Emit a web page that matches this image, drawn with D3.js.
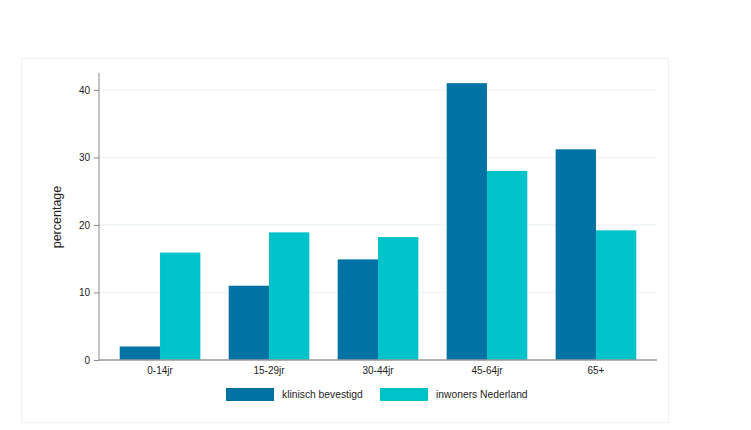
<!DOCTYPE html>
<html>
<head>
<meta charset="utf-8">
<script src="https://cdn.jsdelivr.net/npm/d3@7"></script>
<style>
    body { margin: 0; background: #fff; }
    svg { display: block; font-family: "Liberation Sans", Arial, sans-serif; }
</style>
</head>
<body>
<div id="container"></div>
<script>
const categories = ['0-14jr', '15-29jr', '30-44jr', '45-64jr', '65+'];
const seriesNames = ['klinisch bevestigd', 'inwoners Nederland'];
const klinisch = [2.0, 11.0, 14.9, 41.0, 31.2];
const inwoners = [15.9, 18.9, 18.2, 28.0, 19.2];
const yTicks = [0, 10, 20, 30, 40];
const colors = ['#0073a4', '#00c2c9'];

const width = 751;
const height = 430;
const plotLeft = 99, plotRight = 657, plotBottom = 360, plotTop = 73;

const svg = d3.select('#container').append('svg')
    .attr('width', width)
    .attr('height', height);

// outer panel
svg.append('rect')
    .attr('x', 21.5).attr('y', 58.5)
    .attr('width', 647).attr('height', 364)
    .attr('fill', '#fff')
    .attr('stroke', '#eaf3f5');

const x = d3.scaleBand()
    .domain(categories)
    .range([plotLeft, plotRight])
    .paddingInner(0.26)
    .paddingOuter(0.19);

const xSub = d3.scaleBand()
    .domain(seriesNames)
    .range([0, x.bandwidth()]);

const y = d3.scaleLinear()
    .domain([0, 42.5])
    .range([plotBottom, plotTop]);

// gridlines
svg.append('g')
    .selectAll('line')
    .data(yTicks.filter(d => d > 0))
    .enter().append('line')
    .attr('x1', plotLeft).attr('x2', plotRight)
    .attr('y1', d => y(d)).attr('y2', d => y(d))
    .attr('stroke', '#eef6f8')
    .attr('stroke-width', 1.5);

// bars
const data = categories.map((c, i) => ({ cat: c, values: [klinisch[i], inwoners[i]] }));
svg.append('g')
    .selectAll('g')
    .data(data)
    .enter().append('g')
    .attr('transform', d => `translate(${x(d.cat)},0)`)
    .selectAll('rect')
    .data(d => d.values.map((v, j) => ({ name: seriesNames[j], value: v, j })))
    .enter().append('rect')
    .attr('x', d => xSub(d.name))
    .attr('width', xSub.bandwidth())
    .attr('y', d => y(d.value))
    .attr('height', d => y(0) - y(d.value))
    .attr('fill', d => colors[d.j]);

// y axis
const yAxis = svg.append('g')
    .attr('transform', `translate(${plotLeft},0)`)
    .call(d3.axisLeft(y).tickValues(yTicks).tickSize(5).tickPadding(4));
yAxis.select('.domain').attr('stroke', '#888').attr('d', `M0,${plotTop}V${plotBottom}`);
yAxis.selectAll('.tick line').attr('stroke', '#888');
yAxis.selectAll('.tick text').attr('font-size', 10).attr('fill', '#222').style('font-family', 'Liberation Sans, Arial, sans-serif');

// x axis
const xAxis = svg.append('g')
    .attr('transform', `translate(0,${plotBottom})`)
    .call(d3.axisBottom(x).tickSize(0).tickPadding(7));
xAxis.select('.domain').attr('stroke', '#999').attr('stroke-width', 1.5).attr('d', `M${plotLeft},0H${plotRight}`);
xAxis.selectAll('.tick text').attr('font-size', 10).attr('fill', '#222').style('font-family', 'Liberation Sans, Arial, sans-serif');

// y label
svg.append('text')
    .attr('transform', `translate(61,217) rotate(-90)`)
    .attr('text-anchor', 'middle')
    .attr('font-size', 12.5)
    .attr('fill', '#222')
    .text('percentage');

// legend
const legendX = [226, 380];
const legend = svg.append('g')
    .selectAll('g')
    .data(seriesNames)
    .enter().append('g')
    .attr('transform', (d, i) => `translate(${legendX[i]},388)`);
legend.append('rect')
    .attr('width', 48).attr('height', 13)
    .attr('fill', (d, i) => colors[i]);
legend.append('text')
    .attr('x', 56).attr('y', 10)
    .attr('font-size', 10.3)
    .attr('fill', '#222')
    .text(d => d);
</script>
</body>
</html>
